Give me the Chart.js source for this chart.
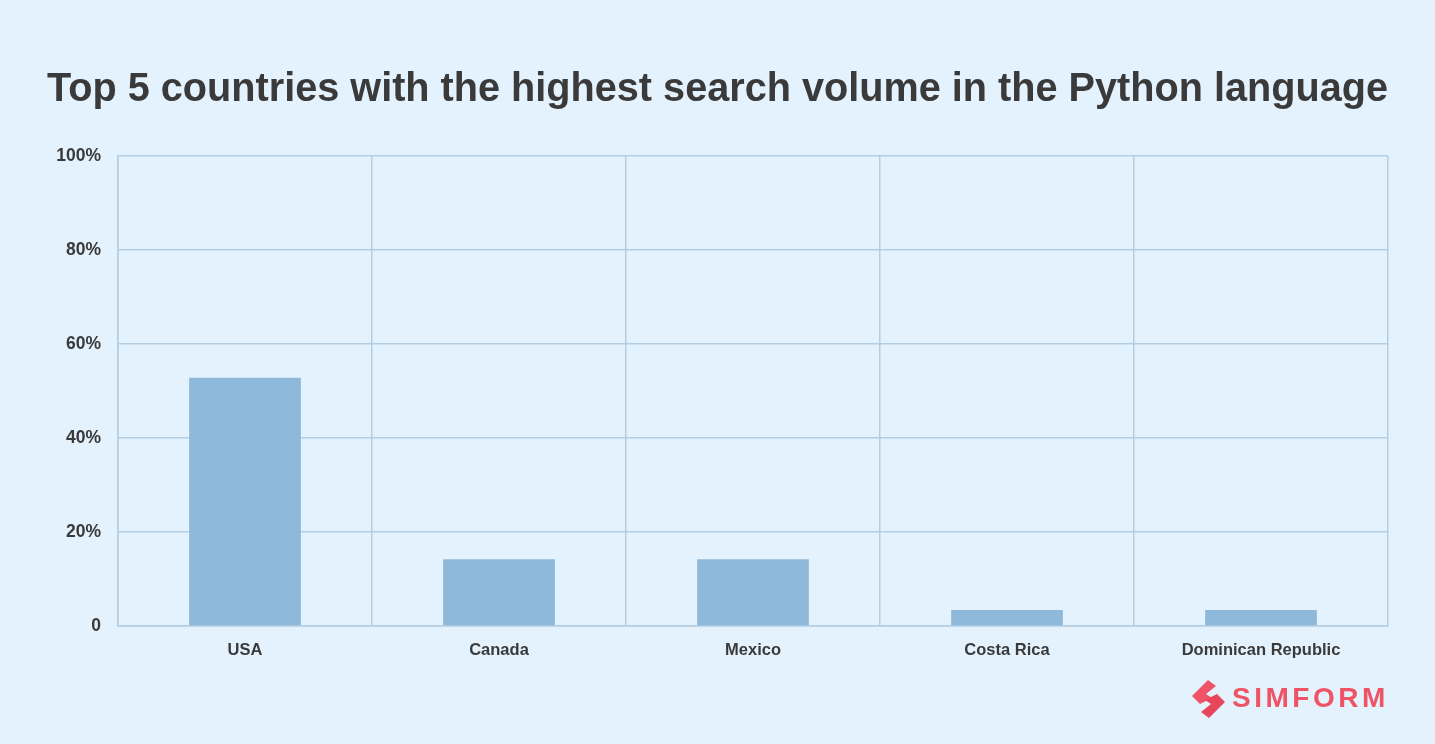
<!DOCTYPE html>
<html lang="en">
<head>
    <meta charset="UTF-8">
    <title>Top 5 countries with the highest search volume in the Python language</title>
    <script src="https://cdn.jsdelivr.net/npm/chart.js"></script>
    <style>
        html, body {
            margin: 0;
            padding: 0;
            background-color: #e4f2fe;
        }
        #wrap {
            width: 1435px;
            height: 744px;
            position: relative;
        }
    </style>
</head>
<body>
    <div id="wrap">
        <canvas id="myChart" width="1435" height="744"></canvas>
    </div>

    <script>
        // data
        const countries = ['USA', 'Canada', 'Mexico', 'Costa Rica', 'Dominican Republic'];
        const searchShare = [52.8, 14.2, 14.2, 3.4, 3.4];
        const yTicks = [0, 20, 40, 60, 80, 100];

        const textColor = '#3a3a3a';
        const gridColor = '#b3cde2';
        const barColor = '#8fb9da';
        const fontFamily = '"Liberation Sans", Arial, sans-serif';

        // Simform logo in the lower right corner
        const logoPlugin = {
            id: 'logo',
            afterDraw(chart) {
                const ctx = chart.ctx;
                ctx.save();
                ctx.fillStyle = '#ef5366';
                ctx.beginPath();
                ctx.moveTo(1208, 680);
                ctx.lineTo(1192, 696);
                ctx.lineTo(1200, 704);
                ctx.lineTo(1212, 698);
                ctx.lineTo(1206, 694);
                ctx.lineTo(1216, 686);
                ctx.closePath();
                ctx.fill();
                ctx.fillStyle = '#e8475b';
                ctx.beginPath();
                ctx.moveTo(1209, 718);
                ctx.lineTo(1225, 702);
                ctx.lineTo(1217, 694);
                ctx.lineTo(1205, 700);
                ctx.lineTo(1211, 704);
                ctx.lineTo(1201, 712);
                ctx.closePath();
                ctx.fill();
                ctx.fillStyle = '#ef5366';
                ctx.font = 'bold 28px ' + fontFamily;
                ctx.textBaseline = 'middle';
                ctx.textAlign = 'left';
                if ('letterSpacing' in ctx) ctx.letterSpacing = '3.5px';
                ctx.fillText('SIMFORM', 1232, 699);
                ctx.restore();
            }
        };

        const ctx = document.getElementById('myChart').getContext('2d');

        new Chart(ctx, {
            type: 'bar',
            data: {
                labels: countries,
                datasets: [{
                    label: 'Search volume',
                    data: searchShare,
                    backgroundColor: barColor,
                    borderWidth: 0,
                    categoryPercentage: 0.88,
                    barPercentage: 0.5
                }]
            },
            options: {
                responsive: false,
                animation: false,
                layout: {
                    padding: { left: 47, right: 47, top: 0, bottom: 0 }
                },
                plugins: {
                    legend: { display: false },
                    tooltip: { enabled: false },
                    title: {
                        display: true,
                        text: 'Top 5 countries with the highest search volume in the Python language',
                        color: textColor,
                        font: { family: fontFamily, size: 40, weight: 'bold' },
                        padding: { top: 66, bottom: 42 }
                    }
                },
                scales: {
                    x: {
                        grid: { color: gridColor, lineWidth: 1.5, drawTicks: false },
                        border: { color: gridColor, width: 1.5 },
                        ticks: {
                            color: textColor,
                            padding: 15,
                            font: { family: fontFamily, size: 16.5, weight: 'bold' }
                        },
                        afterFit(scale) { scale.height = 118; }
                    },
                    y: {
                        min: 0,
                        max: 100,
                        afterBuildTicks(scale) {
                            scale.ticks = yTicks.map(v => ({ value: v }));
                        },
                        grid: { color: gridColor, lineWidth: 1.5, drawTicks: false },
                        border: { color: gridColor, width: 1.5 },
                        ticks: {
                            color: textColor,
                            padding: 17,
                            font: { family: fontFamily, size: 17.5, weight: 'bold' },
                            callback: v => v === 0 ? '0' : v + '%'
                        },
                        afterFit(scale) { scale.width = 71; }
                    }
                }
            },
            plugins: [logoPlugin]
        });
    </script>
</body>
</html>
